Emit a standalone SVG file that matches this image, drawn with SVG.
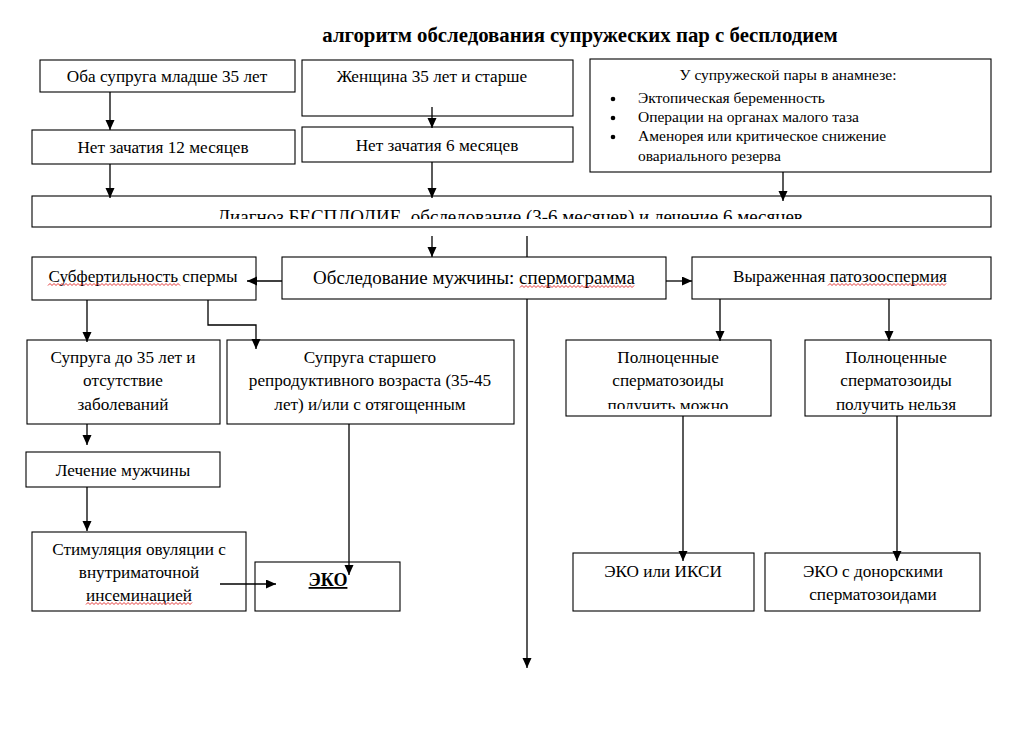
<svg xmlns="http://www.w3.org/2000/svg" width="1027" height="742" viewBox="0 0 1027 742">
<style>
.box{fill:#fff;stroke:#000;stroke-width:1.1}
.t{font-family:"Liberation Serif","Times New Roman",serif;font-size:17.2px;fill:#000;text-anchor:middle}
.ts{font-family:"Liberation Serif","Times New Roman",serif;font-size:15.5px;fill:#000}
.c{fill:none;stroke:#000;stroke-width:1.3;marker-end:url(#ah)}
.l{fill:none;stroke:#000;stroke-width:1.3}
.sq{fill:none;stroke:#e02020;stroke-width:0.9}
</style>
<defs>
<marker id="ah" markerUnits="userSpaceOnUse" markerWidth="10" markerHeight="10" refX="10" refY="4.5" orient="auto">
<path d="M0,0 L10,4.5 L0,9 z" fill="#000"/>
</marker>
<clipPath id="clipDiag"><rect x="32" y="196" width="956" height="23"/></clipPath>
<clipPath id="clipCan"><rect x="566" y="340" width="205" height="69"/></clipPath>
</defs>
<rect width="1027" height="742" fill="#fff"/>
<text x="580" y="42" style="font-family:'Liberation Serif','Times New Roman',serif;font-size:20.8px;font-weight:bold;text-anchor:middle">алгоритм обследования супружеских пар с бесплодием</text>

<g id="n-both-young">
<rect class="box" x="40" y="60" width="255" height="32"/>
<text class="t" x="167" y="82">Оба супруга младше 35 лет</text>
</g>
<g id="n-woman-35">
<rect class="box" x="302" y="60" width="271" height="56"/>
<text class="t" x="432" y="82">Женщина 35 лет и старше</text>
</g>
<g id="n-history">
<rect class="box" x="590" y="59" width="401" height="113"/>
<text class="ts" x="788" y="80" text-anchor="middle">У супружеской пары в анамнезе:</text>
<circle cx="613" cy="99" r="2.3"/>
<circle cx="613" cy="118" r="2.3"/>
<circle cx="613" cy="137" r="2.3"/>
<text class="ts" x="638" y="103">Эктопическая беременность</text>
<text class="ts" x="638" y="122">Операции на органах малого таза</text>
<text class="ts" x="638" y="141">Аменорея или критическое снижение</text>
<text class="ts" x="638" y="161">овариального резерва</text>
</g>
<g id="n-12months">
<rect class="box" x="32" y="130" width="263" height="34"/>
<text class="t" x="163" y="153">Нет зачатия 12 месяцев</text>
</g>
<g id="n-6months">
<rect class="box" x="302" y="127" width="271" height="35"/>
<text class="t" x="437" y="151">Нет зачатия 6 месяцев</text>
</g>
<g id="n-diagnosis">
<rect class="box" x="32" y="196" width="959" height="31"/>
<text class="t" x="510" y="223" clip-path="url(#clipDiag)" style="font-size:19px">Диагноз БЕСПЛОДИЕ, обследование (3-6 месяцев) и лечение 6 месяцев</text>
</g>
<g id="n-subfert">
<rect class="box" x="32" y="257" width="224" height="43"/>
<text class="t" x="143" y="282">Субфертильность спермы</text>
<path class="sq" d="M48,285.5 l2,-2 l2,2 l2,-2 l2,2 l2,-2 l2,2 l2,-2 l2,2 l2,-2 l2,2 l2,-2 l2,2 l2,-2 l2,2 l2,-2 l2,2 l2,-2 l2,2 l2,-2 l2,2 l2,-2 l2,2 l2,-2 l2,2 l2,-2 l2,2 l2,-2 l2,2 l2,-2 l2,2 l2,-2 l2,2 l2,-2 l2,2 l2,-2 l2,2 l2,-2 l2,2 l2,-2 l2,2 l2,-2 l2,2 l2,-2 l2,2 l2,-2 l2,2 l2,-2 l2,2 l2,-2 l2,2 l2,-2 l2,2 l2,-2 l2,2 l2,-2 l2,2 l2,-2 l2,2 l2,-2 l2,2 l2,-2 l2,2 l2,-2 l2,2 l2,-2 l2,2"/>
</g>
<g id="n-male-exam">
<rect class="box" x="282" y="257" width="384" height="42"/>
<text class="t" x="474" y="284" style="font-size:19px">Обследование мужчины: спермограмма</text>
<path class="sq" d="M520,287.5 l2,-2 l2,2 l2,-2 l2,2 l2,-2 l2,2 l2,-2 l2,2 l2,-2 l2,2 l2,-2 l2,2 l2,-2 l2,2 l2,-2 l2,2 l2,-2 l2,2 l2,-2 l2,2 l2,-2 l2,2 l2,-2 l2,2 l2,-2 l2,2 l2,-2 l2,2 l2,-2 l2,2 l2,-2 l2,2 l2,-2 l2,2 l2,-2 l2,2 l2,-2 l2,2 l2,-2 l2,2 l2,-2 l2,2 l2,-2 l2,2 l2,-2 l2,2 l2,-2 l2,2 l2,-2 l2,2 l2,-2 l2,2 l2,-2 l2,2 l2,-2 l2,2 l2,-2"/>
</g>
<g id="n-patho">
<rect class="box" x="692" y="257" width="299" height="42"/>
<text class="t" x="840" y="282">Выраженная патозооспермия</text>
<path class="sq" d="M828,285.5 l2,-2 l2,2 l2,-2 l2,2 l2,-2 l2,2 l2,-2 l2,2 l2,-2 l2,2 l2,-2 l2,2 l2,-2 l2,2 l2,-2 l2,2 l2,-2 l2,2 l2,-2 l2,2 l2,-2 l2,2 l2,-2 l2,2 l2,-2 l2,2 l2,-2 l2,2 l2,-2 l2,2 l2,-2 l2,2 l2,-2 l2,2 l2,-2 l2,2 l2,-2 l2,2 l2,-2 l2,2 l2,-2 l2,2 l2,-2 l2,2 l2,-2 l2,2 l2,-2 l2,2 l2,-2 l2,2 l2,-2 l2,2 l2,-2 l2,2 l2,-2 l2,2 l2,-2 l2,2 l2,-2"/>
</g>
<g id="n-wife-under35">
<rect class="box" x="27" y="340" width="193" height="84"/>
<text class="t" x="123" y="363">Супруга до 35 лет и</text>
<text class="t" x="123" y="386">отсутствие</text>
<text class="t" x="123" y="410">заболеваний</text>
</g>
<g id="n-wife-older">
<rect class="box" x="227" y="340" width="287" height="84"/>
<text class="t" x="370" y="363">Супруга старшего</text>
<text class="t" x="370" y="386">репродуктивного возраста (35-45</text>
<text class="t" x="370" y="410">лет) и/или с отягощенным</text>
</g>
<g id="n-can">
<rect class="box" x="566" y="340" width="205" height="76"/>
<text class="t" x="668" y="363">Полноценные</text>
<text class="t" x="668" y="386">сперматозоиды</text>
<text class="t" x="668" y="411" clip-path="url(#clipCan)">получить можно</text>
</g>
<g id="n-cannot">
<rect class="box" x="805" y="340" width="186" height="76"/>
<text class="t" x="896" y="363">Полноценные</text>
<text class="t" x="896" y="386">сперматозоиды</text>
<text class="t" x="896" y="410">получить нельзя</text>
</g>
<g id="n-male-treat">
<rect class="box" x="26" y="452" width="194" height="35"/>
<text class="t" x="123" y="476">Лечение мужчины</text>
</g>
<g id="n-stim">
<rect class="box" x="32" y="532" width="214" height="79"/>
<text class="t" x="139" y="555">Стимуляция овуляции с</text>
<text class="t" x="139" y="578">внутриматочной</text>
<text class="t" x="139" y="601">инсеминацией</text>
<path class="sq" d="M86,604.5 l2,-2 l2,2 l2,-2 l2,2 l2,-2 l2,2 l2,-2 l2,2 l2,-2 l2,2 l2,-2 l2,2 l2,-2 l2,2 l2,-2 l2,2 l2,-2 l2,2 l2,-2 l2,2 l2,-2 l2,2 l2,-2 l2,2 l2,-2 l2,2 l2,-2 l2,2 l2,-2 l2,2 l2,-2 l2,2 l2,-2 l2,2 l2,-2 l2,2 l2,-2 l2,2 l2,-2 l2,2 l2,-2 l2,2 l2,-2 l2,2 l2,-2 l2,2 l2,-2 l2,2 l2,-2 l2,2 l2,-2 l2,2 l2,-2"/>
</g>
<g id="n-eko">
<rect class="box" x="255" y="562" width="145" height="49"/>
<text class="t" x="328" y="586" style="font-size:18px;font-weight:bold;text-decoration:underline">ЭКО</text>
</g>
<g id="n-eko-icsi">
<rect class="box" x="573" y="553" width="181" height="58"/>
<text class="t" x="663" y="577">ЭКО или ИКСИ</text>
</g>
<g id="n-eko-donor">
<rect class="box" x="765" y="553" width="215" height="58"/>
<text class="t" x="873" y="577">ЭКО с донорскими</text>
<text class="t" x="873" y="600">сперматозоидами</text>
</g>

<g id="connectors">
<path class="c" d="M110,92 V130"/>
<path class="c" d="M110,164 V198"/>
<path class="c" d="M432,107 V128"/>
<path class="c" d="M432,162 V198"/>
<path class="c" d="M783,172 V201"/>
<path class="c" d="M432,236 V257"/>
<path class="l" d="M527,236 V257"/>
<path class="c" d="M527,299 V668"/>
<path class="c" d="M282,281 H247"/>
<path class="c" d="M666,281 H692"/>
<path class="c" d="M87,300 V342"/>
<path class="c" d="M208,300 V325 H256 V349"/>
<path class="c" d="M720,299 V341"/>
<path class="c" d="M889,299 V341"/>
<path class="c" d="M87,424 V445"/>
<path class="c" d="M87,487 V531"/>
<path class="c" d="M220,584 H276"/>
<path class="c" d="M349,424 V575"/>
<path class="c" d="M683,416 V561"/>
<path class="c" d="M897,416 V561"/>
</g>
</svg>
